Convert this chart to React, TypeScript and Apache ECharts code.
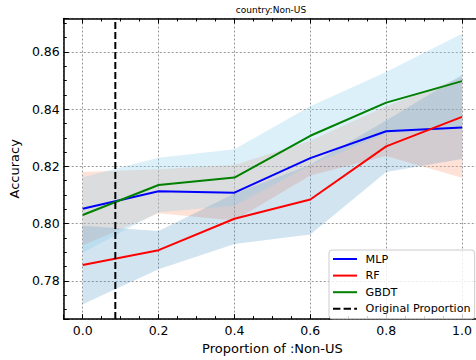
import React, { useEffect, useRef } from "react";
import * as echarts from "echarts";

// Proportion of the Non-US group in the training data
const proportions = [0.0, 0.2, 0.4, 0.6, 0.8, 1.0];

// Mean accuracy per model and its spread band
const mlpMean = [0.8052, 0.8113, 0.8108, 0.8229, 0.8323, 0.8336];
const mlpLower = [0.7924, 0.8036, 0.8011, 0.8168, 0.8236, 0.816];
const mlpUpper = [0.818, 0.819, 0.8205, 0.829, 0.841, 0.8512];

const rfMean = [0.7855, 0.7907, 0.8017, 0.8084, 0.827, 0.8373];
const rfLower = [0.7718, 0.784, 0.7929, 0.7962, 0.818, 0.8226];
const rfUpper = [0.7992, 0.7974, 0.8105, 0.8206, 0.836, 0.852];

const gbdtMean = [0.803, 0.8135, 0.8161, 0.8307, 0.8423, 0.8498];
const gbdtLower = [0.7898, 0.804, 0.8062, 0.8204, 0.8316, 0.8332];
const gbdtUpper = [0.8162, 0.823, 0.826, 0.841, 0.853, 0.8664];

// Proportion found in the original data set
const originalProportion = 0.086;

const xRange = [-0.05, 1.05];
const yRange = [0.7666, 0.8717];

const FONT = "DejaVu Sans";

// Legend glyphs: a solid stroke and a dashed stroke
const SOLID_ICON = "path://M0,0h24v2h-24z";
const DASHED_ICON = "path://M0,0h7.4v2h-7.4zM10.6,0h7.4v2h-7.4zM21.2,0h2.8v2h-2.8z";

function bandSeries(lower: number[], upper: number[], fill: string, z: number) {
  return {
    type: "custom",
    silent: true,
    z,
    data: proportions.map((x, i) => [x, lower[i], upper[i]]),
    encode: { x: 0, y: [1, 2] },
    renderItem: (params: any, api: any) => {
      if (params.dataIndex !== 0) return null;
      const top = proportions.map((x, i) => api.coord([x, upper[i]]));
      const bottom = proportions.map((x, i) => api.coord([x, lower[i]])).reverse();
      return {
        type: "polygon",
        shape: { points: top.concat(bottom) },
        style: { fill, stroke: null },
      };
    },
  };
}

function meanSeries(name: string, values: number[], color: string) {
  return {
    type: "line",
    name,
    z: 5,
    symbol: "none",
    data: proportions.map((x, i) => [x, values[i]]),
    lineStyle: { color, width: 2 },
    itemStyle: { color },
  };
}

export default function App() {
  const ref = useRef<HTMLDivElement>(null);

  useEffect(() => {
    if (!ref.current) return;
    const chart = echarts.init(ref.current, undefined, { renderer: "svg" });

    const tickStyle = { color: "#000", width: 1 };
    const gridLine = { show: true, lineStyle: { color: "#999", width: 1, type: [2, 2] } };

    chart.setOption({
      animation: false,
      textStyle: { fontFamily: FONT },
      grid: { left: 61.2, right: 0, top: 18.5, bottom: 35 },
      graphic: [
        {
          type: "text",
          x: 271,
          y: 10,
          style: {
            text: "country:Non-US",
            font: `9px "${FONT}"`,
            fill: "#000",
            align: "center",
            verticalAlign: "middle",
          },
        },
      ],
      legend: {
        data: [
          { name: "MLP", icon: SOLID_ICON },
          { name: "RF", icon: SOLID_ICON },
          { name: "GBDT", icon: SOLID_ICON },
          { name: "Original Proportion", icon: DASHED_ICON },
        ],
        orient: "vertical",
        left: 329,
        top: 250,
        padding: [3, 4, 4, 4],
        itemWidth: 24,
        itemHeight: 12,
        itemGap: 4.6,
        backgroundColor: "rgba(255,255,255,0.8)",
        borderColor: "#ccc",
        borderWidth: 1,
        borderRadius: 3,
        textStyle: {
          fontFamily: FONT,
          fontSize: 11.2,
          color: "#000",
          lineHeight: 12,
          padding: [0, 0, 0, 3.6],
        },
      },
      xAxis: [
        {
          type: "value",
          min: xRange[0],
          max: xRange[1],
          splitNumber: 5,
          position: "bottom",
          name: "Proportion of :Non-US",
          nameLocation: "middle",
          nameGap: 19,
          nameTextStyle: { fontFamily: FONT, fontSize: 13, color: "#000" },
          axisLine: { show: true, onZero: false, lineStyle: { color: "#000", width: 1.5 } },
          axisTick: { show: true, inside: true, length: 5, lineStyle: tickStyle },
          minorTick: { show: true, splitNumber: 4, length: 3, lineStyle: tickStyle },
          axisLabel: {
            show: true,
            margin: 5,
            fontFamily: FONT,
            fontSize: 12.5,
            color: "#000",
            showMinLabel: false,
            showMaxLabel: false,
            formatter: (v: number) => v.toFixed(1),
          },
          splitLine: gridLine,
        },
        {
          type: "value",
          min: xRange[0],
          max: xRange[1],
          splitNumber: 5,
          position: "top",
          axisLine: { show: true, onZero: false, lineStyle: { color: "#000", width: 1.5 } },
          axisTick: { show: true, inside: true, length: 5, lineStyle: tickStyle },
          minorTick: { show: true, splitNumber: 4, length: 3, lineStyle: tickStyle },
          axisLabel: { show: false },
          splitLine: { show: false },
        },
      ],
      yAxis: {
        type: "value",
        min: yRange[0],
        max: yRange[1],
        splitNumber: 5,
        name: "Accuracy",
        nameLocation: "middle",
        nameGap: 38,
        nameTextStyle: { fontFamily: FONT, fontSize: 13, color: "#000" },
        axisLine: { show: true, onZero: false, lineStyle: { color: "#000", width: 1.5 } },
        axisTick: { show: true, inside: true, length: 5, lineStyle: tickStyle },
        minorTick: { show: true, splitNumber: 4, length: 3, lineStyle: tickStyle },
        axisLabel: {
          margin: 4,
          fontFamily: FONT,
          fontSize: 12.5,
          color: "#000",
          showMinLabel: false,
          showMaxLabel: false,
          formatter: (v: number) => v.toFixed(2),
        },
        splitLine: gridLine,
      },
      series: [
        bandSeries(mlpLower, mlpUpper, "rgba(255,160,122,0.3)", 1),
        bandSeries(rfLower, rfUpper, "rgba(31,119,180,0.2)", 1),
        bandSeries(gbdtLower, gbdtUpper, "rgba(135,206,235,0.3)", 1),
        meanSeries("MLP", mlpMean, "#0000ff"),
        meanSeries("RF", rfMean, "#ff0000"),
        meanSeries("GBDT", gbdtMean, "#008000"),
        {
          type: "line",
          name: "Original Proportion",
          z: 6,
          symbol: "none",
          data: [
            [originalProportion, yRange[0]],
            [originalProportion, yRange[1]],
          ],
          lineStyle: { color: "#000", width: 2, type: [7, 3] },
          itemStyle: { color: "#000" },
        },
      ],
    });

    return () => chart.dispose();
  }, []);

  return (
    <div style={{ position: "fixed", left: 0, top: 0, width: 476, height: 360, overflow: "hidden", background: "#fff" }}>
      <div ref={ref} style={{ width: 481, height: 360 }} />
    </div>
  );
}
